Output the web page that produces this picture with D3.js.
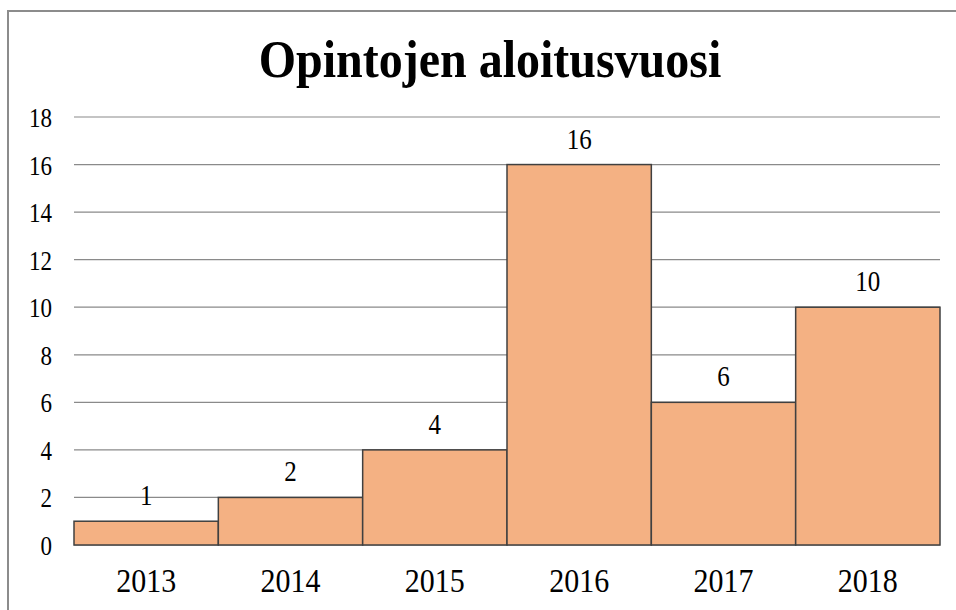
<!DOCTYPE html>
<html>
<head>
<meta charset="utf-8">
<script src="https://cdn.jsdelivr.net/npm/d3@7"></script>
<style>
  body { margin: 0; background: #fff; }
  svg text { font-family: "Liberation Serif", "Tinos", "Times New Roman", "DejaVu Serif", serif !important; fill: #000; }
</style>
</head>
<body>
<div id="chart"></div>
<script>
const years = ["2013", "2014", "2015", "2016", "2017", "2018"];
const counts = [1, 2, 4, 16, 6, 10];
const yTicks = [0, 2, 4, 6, 8, 10, 12, 14, 16, 18];
const title = "Opintojen aloitusvuosi";

const W = 956, H = 610;
const margin = { top: 117, right: 16, bottom: 65, left: 74 };
const width = W - margin.left - margin.right;
const height = H - margin.top - margin.bottom;
const stretch = 1.15; // the original text is a bit taller than wide

const root = d3.select("#chart").append("svg")
  .attr("width", W)
  .attr("height", H);

// outer frame
root.append("rect")
  .attr("x", 8).attr("y", 11)
  .attr("width", W).attr("height", H)
  .attr("fill", "none")
  .attr("stroke", "#8c8c8c")
  .attr("stroke-width", 2);

root.append("g")
  .attr("transform", `translate(490,77) scale(1,1.1)`)
  .append("text")
  .attr("text-anchor", "middle")
  .attr("font-size", "48px")
  .attr("font-weight", "bold")
  .text(title);

const svg = root.append("g")
  .attr("transform", `translate(${margin.left},${margin.top})`);

const x = d3.scaleBand().domain(years).range([0, width]).padding(0);
const y = d3.scaleLinear().domain([0, 18]).range([height, 0]);

// gridlines
svg.append("g")
  .selectAll("line")
  .data(yTicks)
  .join("line")
  .attr("x1", 0).attr("x2", width)
  .attr("y1", d => y(d)).attr("y2", d => y(d))
  .attr("stroke", "#8a8a8a")
  .attr("stroke-width", 1.2);

// y axis labels
const yAxis = svg.append("g")
  .call(d3.axisLeft(y).tickValues(yTicks).tickSize(0).tickPadding(22));
yAxis.select(".domain").remove();
yAxis.selectAll("text")
  .attr("font-size", "23px")
  .attr("dy", "0.36em")
  .attr("transform", `scale(1,${stretch})`);

// bars
const data = years.map((yr, i) => ({ yr, v: counts[i] }));
svg.selectAll(".bar")
  .data(data)
  .join("rect")
  .attr("class", "bar")
  .attr("x", d => x(d.yr))
  .attr("y", d => y(d.v))
  .attr("width", x.bandwidth())
  .attr("height", d => height - y(d.v))
  .attr("fill", "#f4b183")
  .attr("stroke", "#404040")
  .attr("stroke-width", 1.5);

// value labels
svg.selectAll(".val")
  .data(data)
  .join("g")
  .attr("class", "val")
  .attr("transform", d => `translate(${x(d.yr) + x.bandwidth() / 2},${y(d.v) - 16}) scale(1,${stretch})`)
  .append("text")
  .attr("text-anchor", "middle")
  .attr("font-size", "25px")
  .text(d => d.v);

// x axis labels
const xAxis = svg.append("g")
  .attr("transform", `translate(0,${height})`)
  .call(d3.axisBottom(x).tickSize(0).tickPadding(0));
xAxis.select(".domain").remove();
xAxis.selectAll("text")
  .attr("font-size", "30px")
  .attr("y", 0)
  .attr("dy", 0)
  .attr("transform", `translate(0,47) scale(1,${stretch})`);
</script>
</body>
</html>
